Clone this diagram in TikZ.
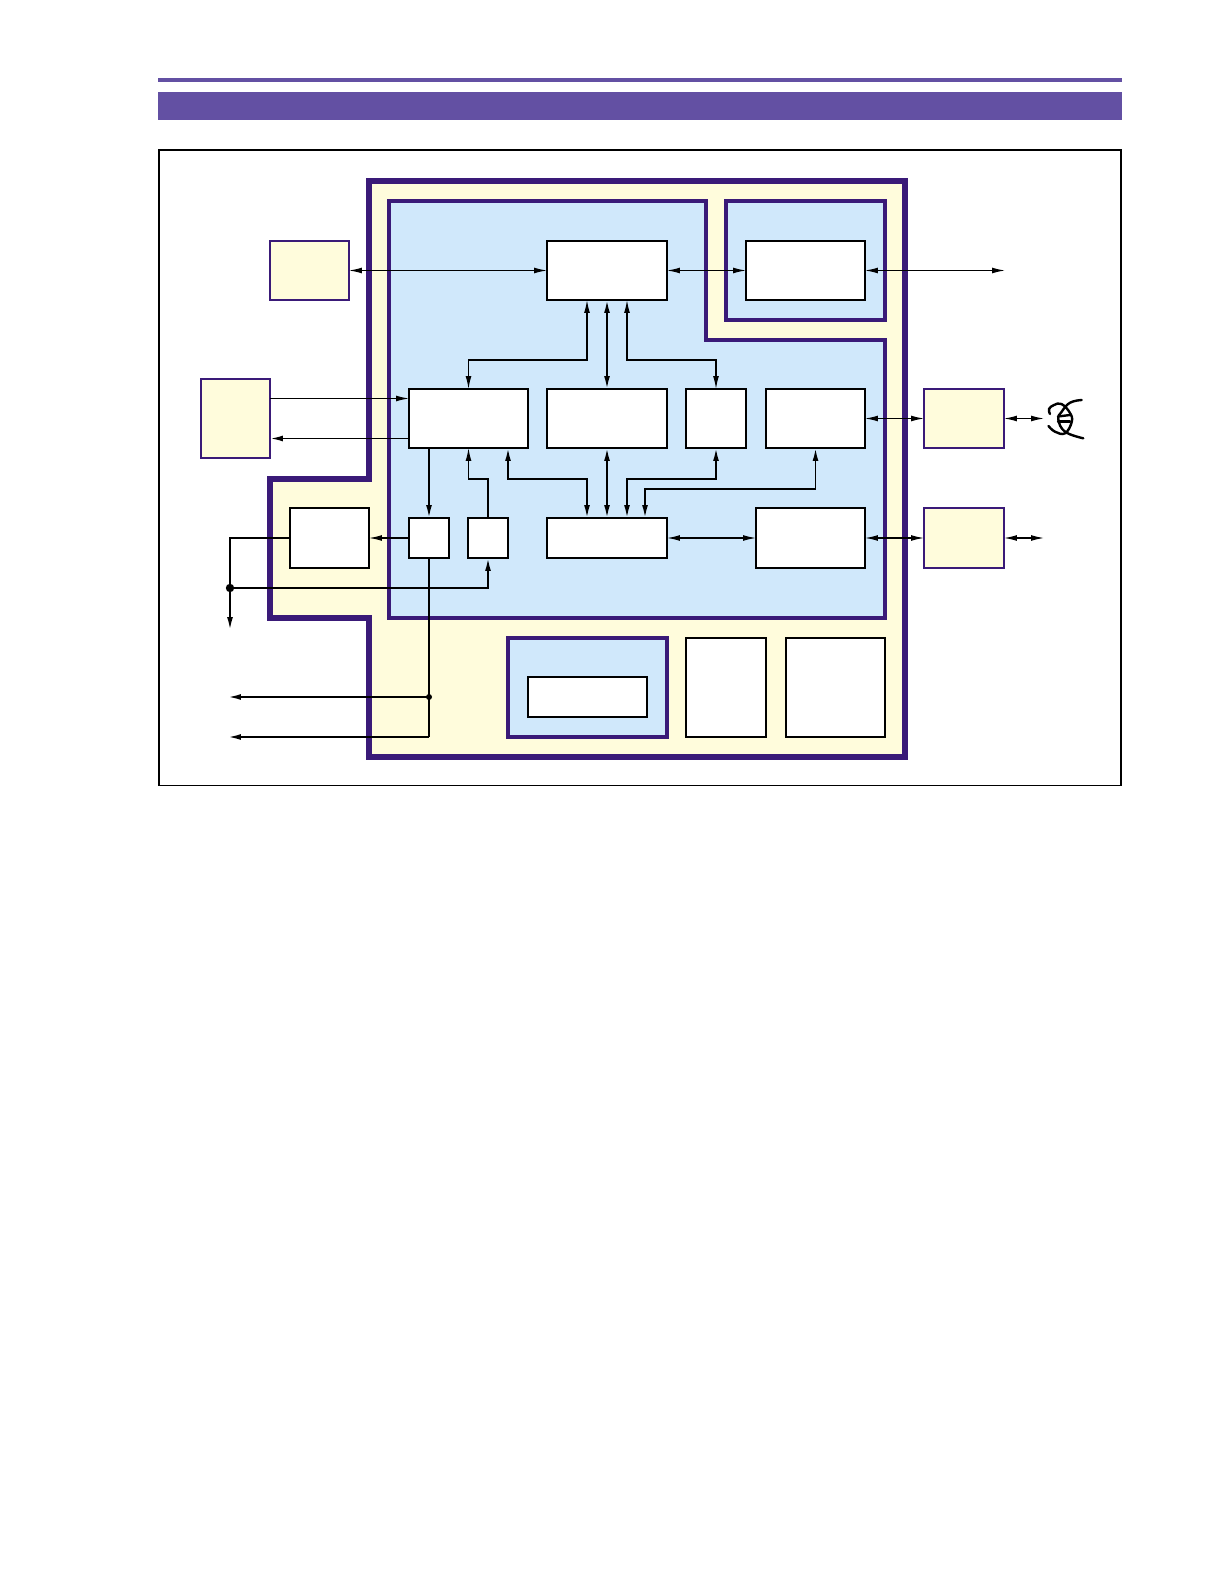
\documentclass[tikz,border=0pt]{standalone}
\usetikzlibrary{arrows.meta}
\definecolor{deep}{HTML}{3A1A78}
\definecolor{bar}{HTML}{6350A3}
\definecolor{cream}{HTML}{FFFCDC}
\definecolor{pale}{HTML}{D0E8FB}
\tikzset{
  whitebox/.style={draw=black,fill=white,line width=1.2pt,inner sep=0pt,outer sep=0pt},
  creambox/.style={draw=deep,fill=cream,line width=1.25pt,inner sep=0pt,outer sep=0pt},
  region/.style={draw=deep,fill=pale,line width=2pt,miter limit=10},
  shell/.style={draw=deep,fill=cream,line width=3pt,miter limit=10},
  wire/.style={draw=black,line width=.6pt},
  heavy/.style={draw=black,line width=.9pt},
  head/.tip={Latex[length=6.4pt,width=2.9pt]},
  to/.style={-{head}},
  both/.style={{head}-{head}},
  dot/.style={circle,fill=black,inner sep=0pt,outer sep=0pt},
  squiggle/.style={draw=black,line width=1.2pt,line cap=round}
}
% name, style, x1, y1, x2, y2 (pixels of the reference)
\newcommand{\bx}[6]{%
  \pgfmathsetmacro{\bxw}{(#5-#3)*0.5}%
  \pgfmathsetmacro{\bxh}{(#6-#4)*0.5}%
  \pgfmathsetmacro{\bxx}{(#3+#5)*0.5}%
  \pgfmathsetmacro{\bxy}{(#4+#6)*0.5}%
  \node[#2,minimum width=\bxw pt,minimum height=\bxh pt] (#1) at (\bxx,\bxy) {};}
\begin{document}
\begin{tikzpicture}[x=0.5pt,y=-0.5pt]
\useasboundingbox (0,0) rectangle (1224,1588);
% header
\fill[bar] (158,78) rectangle (1122,82);
\fill[bar] (158,92) rectangle (1122,120);
\draw[black,line width=.7pt] (159,150) rectangle (1121,785.5);
% regions
\path[shell] (369,181) -- (905,181) -- (905,757) -- (369,757) -- (369,618) -- (270,618) -- (270,479) -- (369,479) -- cycle;
\path[region] (389,201) -- (706,201) -- (706,340) -- (885,340) -- (885,618) -- (389,618) -- cycle;
\path[region] (726,201) rectangle (885,320);
\path[region] (508,638) rectangle (667,737);
% blocks
\bx{top}{whitebox}{547}{241}{667}{300}
\bx{topr}{whitebox}{746}{241}{865}{300}
\bx{ml}{whitebox}{409}{389}{528}{448}
\bx{mc}{whitebox}{547}{389}{667}{448}
\bx{ms}{whitebox}{686}{389}{746}{448}
\bx{mr}{whitebox}{766}{389}{865}{448}
\bx{ll}{whitebox}{290}{508}{369}{568}
\bx{sa}{whitebox}{409}{518}{449}{558}
\bx{sb}{whitebox}{468}{518}{508}{558}
\bx{wide}{whitebox}{547}{518}{667}{558}
\bx{lr}{whitebox}{756}{508}{865}{568}
\bx{inner}{whitebox}{528}{677}{647}{717}
\bx{btwo}{whitebox}{686}{638}{766}{737}
\bx{bthree}{whitebox}{786}{638}{885}{737}
\bx{ca}{creambox}{270}{241}{349}{300}
\bx{cb}{creambox}{201}{379}{270}{458}
\bx{cc}{creambox}{924}{389}{1004}{448}
\bx{cd}{creambox}{924}{508}{1004}{568}
% junctions and free ends
\node[dot,minimum size=4.2pt] (ja) at (230,588) {};
\node[dot,minimum size=3pt] (jb) at (429,697) {};
\coordinate (endtop) at (1005,270.5);
\coordinate (endcc) at (1044,418.5);
\coordinate (endcd) at (1044,538);
\coordinate (endja) at (230,630);
\coordinate (endjb) at (228,697);
\coordinate (endsa) at (228,737);
% connectors, top row
\draw[wire,both] (ca.east) -- (top.west);
\draw[wire,both] (top.east) -- (topr.west);
\draw[wire,both] (topr.east) -- (endtop);
% from the top block down
\draw[wire,both] ([xshift=-10pt]top.south) -- ++(0,60) -| (ml.north);
\draw[heavy,both] (top.south) -- (mc.north);
\draw[wire,both] ([xshift=10pt]top.south) -- ++(0,60) -| (ms.north);
% left side
\draw[wire,to] ([yshift=10pt]cb.east) -- ([yshift=10pt]ml.west);
\draw[heavy,to] ([yshift=-10pt]ml.west) -- ([yshift=-10pt]cb.east);
% right side
\draw[wire,both] (mr.east) -- (cc.west);
\draw[wire,both] (cc.east) -- (endcc);
\draw[wire,both] (lr.east) -- (cd.west);
\draw[wire,both] (cd.east) -- (endcd);
% middle row to lower row
\draw[heavy,to] (ml.south -| sa.north) -- (sa.north);
\draw[wire,to] (sb.north) -- ++(0,-39) -| (ml.south);
\draw[heavy,both] (ml.south -| sb.east) -- ++(0,31) -| ([xshift=-10pt]wide.north);
\draw[heavy,both] (mc.south) -- (wide.north);
\draw[heavy,both] ([xshift=10pt]wide.north) -- ++(0,-39) -| (ms.south);
\draw[heavy,both] ([xshift=19pt]wide.north) -- ++(0,-29) -| (mr.south);
\draw[wire,both] (wide.east) -- (lr.west);
% lower left
\draw[wire,to] (sa.west) -- (ll.east);
\draw[wire] (ll.west) -| (ja.center);
\draw[heavy,to] (ja.center) -- (endja);
\draw[heavy,to] (ja.center) -| (sb.south);
\draw[wire] (sa.south) -- (sa.south |- endsa);
\draw[heavy,to] (sa.south |- endsa) -- (endsa);
\draw[heavy,to] (jb.center) -- (endjb);
% twisted-pair symbol
\draw[squiggle] plot[smooth,tension=.7] coordinates {(1050,414) (1049,409) (1054,405) (1061.5,404) (1070,413) (1071.7,422) (1065,433.3) (1055,431.7) (1048.5,426)};
\draw[squiggle] plot[smooth,tension=.7] coordinates {(1081.7,400) (1070,402.7) (1061.7,411.7) (1058.3,419.3) (1065,431.7) (1083.3,438.3)};
\draw[squiggle] (1058,416.5) -- (1070,415);
\draw[squiggle] (1058,421.5) -- (1070,421.5);
\end{tikzpicture}
\end{document}
